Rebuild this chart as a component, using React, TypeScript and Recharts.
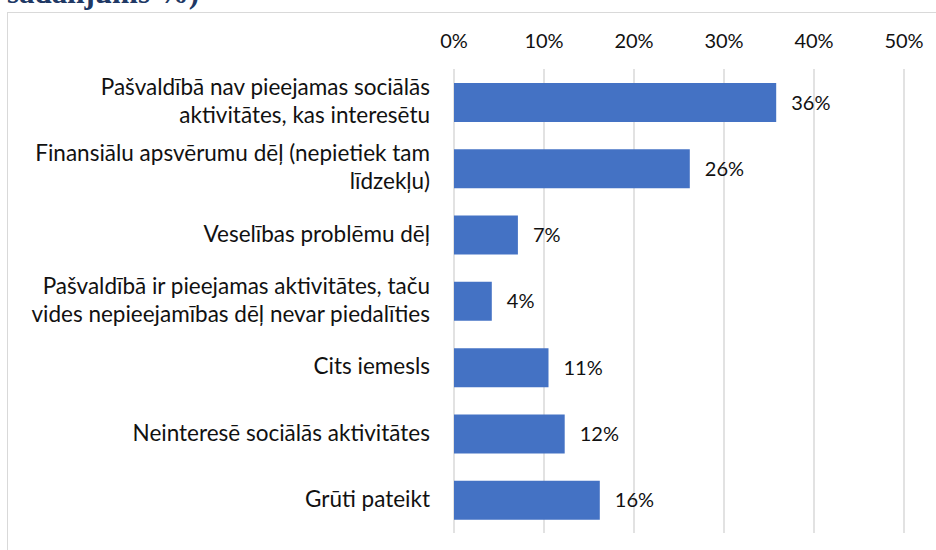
import React from "react";
import {
  Bar,
  BarChart,
  CartesianGrid,
  LabelList,
  XAxis,
  YAxis,
} from "recharts";

// reasons, top to bottom as in the source chart
const categories = [
  "Pašvaldībā nav pieejamas sociālās aktivitātes, kas interesētu",
  "Finansiālu apsvērumu dēļ (nepietiek tam līdzekļu)",
  "Veselības problēmu dēļ",
  "Pašvaldībā ir pieejamas aktivitātes, taču vides nepieejamības dēļ nevar piedalīties",
  "Cits iemesls",
  "Neinteresē sociālās aktivitātes",
  "Grūti pateikt",
];
const shares = [35.8, 26.2, 7.1, 4.2, 10.5, 12.3, 16.2];
const xTicks = [0, 10, 20, 30, 40, 50];
const titleTail = "sadalījums %)";

const data = categories.map((name, i) => ({ name, value: shares[i] }));

const FONT = "Lato, 'Open Sans', sans-serif";
const TEXT = "#111111";

// word wrap by character count, close to how the office chart breaks lines
const wrap = (s: string, max: number) => {
  const lines: string[] = [];
  let cur = "";
  s.split(" ").forEach((w) => {
    const next = cur ? cur + " " + w : w;
    if (cur && next.length > max) {
      lines.push(cur);
      cur = w;
    } else {
      cur = next;
    }
  });
  if (cur) lines.push(cur);
  return lines;
};

const CategoryTick = (props: any) => {
  const { x, y, payload } = props;
  const lines = wrap(payload.value, 42);
  const lh = 28;
  const start = y - ((lines.length - 1) * lh) / 2 + 7;
  return (
    <text
      x={x - 24}
      y={start}
      textAnchor="end"
      fontFamily={FONT}
      fontSize={22.5}
      fill={TEXT}
    >
      {lines.map((l, i) => (
        <tspan key={i} x={x - 24} y={start + i * lh}>
          {l}
        </tspan>
      ))}
    </text>
  );
};

export default function App() {
  return (
    <div
      style={{
        position: "absolute",
        left: 0,
        top: 0,
        width: 936,
        height: 550,
        overflow: "hidden",
        background: "#fff",
      }}
    >
      {/* cut-off title from the page above */}
      <div
        style={{
          position: "absolute",
          left: 7,
          top: -27,
          fontFamily: "'Liberation Serif', 'Times New Roman', serif",
          fontWeight: "bold",
          fontSize: 31,
          lineHeight: "40px",
          color: "#203864",
          whiteSpace: "nowrap",
        }}
      >
        {titleTail}
      </div>

      {/* chart frame */}
      <div
        style={{
          position: "absolute",
          left: 7,
          top: 12,
          width: 960,
          height: 600,
          border: "1.5px solid #d9d9d9",
          boxSizing: "border-box",
        }}
      />

      <div style={{ position: "absolute", left: 0, top: 0 }}>
        <BarChart
          width={936}
          height={550}
          data={data}
          layout="vertical"
          margin={{ top: 20, right: 32, bottom: 17, left: 0 }}
        >
          <CartesianGrid
            horizontal={false}
            stroke="#d9d9d9"
            strokeWidth={1.5}
          />
          <XAxis
            type="number"
            orientation="top"
            domain={[0, 50]}
            ticks={xTicks}
            tickFormatter={(v: number) => `${v}%`}
            axisLine={false}
            tickLine={false}
            tickSize={0}
            tickMargin={21}
            height={49}
            tick={{ fontFamily: FONT, fontSize: 20, fill: TEXT }}
          />
          <YAxis
            type="category"
            dataKey="name"
            width={454}
            axisLine={false}
            tickLine={false}
            tickSize={0}
            tickMargin={0}
            tick={<CategoryTick />}
            interval={0}
          />
          <Bar dataKey="value" fill="#4472C4" barSize={39} isAnimationActive={false}>
            <LabelList
              dataKey="value"
              position="right"
              offset={15}
              formatter={(v: any) => `${Math.round(Number(v))}%`}
              style={{ fontFamily: FONT, fontSize: 20, fill: TEXT }}
            />
          </Bar>
        </BarChart>
      </div>
    </div>
  );
}
